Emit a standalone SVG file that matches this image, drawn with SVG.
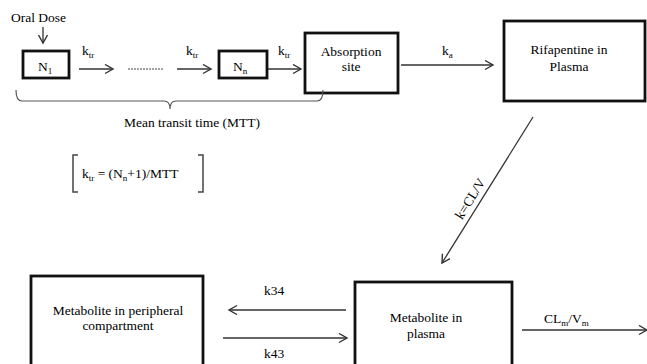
<svg xmlns="http://www.w3.org/2000/svg" width="647" height="364" viewBox="0 0 647 364">
<style>
text{font-family:"Liberation Serif","Times New Roman",serif;font-size:13.5px;fill:#000}
.box{fill:#fff;stroke:#111;stroke-width:2.8}
.ln{fill:none;stroke:#333;stroke-width:1.3}
.sub{font-size:9px}
.m{text-anchor:middle}
</style>
<defs>
<marker id="ah" markerUnits="userSpaceOnUse" markerWidth="12" markerHeight="12" refX="9" refY="5" orient="auto">
<path d="M1,0.5 L9,5 L1,9.5" fill="none" stroke="#333" stroke-width="1.4"/>
</marker>
</defs>
<rect width="647" height="364" fill="#fff"/>

<g id="connectors">
<path class="ln" d="M43,27 V43" marker-end="url(#ah)"/>
<path class="ln" d="M79,69 H113" marker-end="url(#ah)"/>
<path d="M128,69 H163" fill="none" stroke="#444" stroke-width="1" stroke-dasharray="2,1"/>
<path class="ln" d="M177,69 H211" marker-end="url(#ah)"/>
<path class="ln" d="M267,69 H301" marker-end="url(#ah)"/>
<path class="ln" d="M401,65 H493" marker-end="url(#ah)"/>
<path class="ln" d="M533,117 L442,263" marker-end="url(#ah)"/>
<path class="ln" d="M346,310 H229" marker-end="url(#ah)"/>
<path class="ln" d="M223,338 H347" marker-end="url(#ah)"/>
<path class="ln" d="M522,330 H647" marker-end="url(#ah)"/>
<text x="82" y="55">k<tspan class="sub" dy="3">tr</tspan></text>
<text x="186" y="55">k<tspan class="sub" dy="3">tr</tspan></text>
<text x="278" y="55">k<tspan class="sub" dy="3">tr</tspan></text>
<text x="442" y="55">k<tspan class="sub" dy="3">a</tspan></text>
<text class="m" transform="translate(474,201) rotate(-58)">k=CL/V</text>
<text class="m" x="274" y="295">k34</text>
<text class="m" x="274" y="358">k43</text>
<text x="544" y="323">CL<tspan class="sub" dy="3">m</tspan><tspan dy="-3">/V</tspan><tspan class="sub" dy="3">m</tspan></text>
</g>

<g id="oral-dose">
<text x="11" y="22">Oral Dose</text>
</g>

<g id="N1">
<rect class="box" x="23" y="51" width="46" height="27"/>
<text x="38" y="71">N<tspan class="sub" dy="3">1</tspan></text>
</g>

<g id="Nn">
<rect class="box" x="219" y="51" width="48" height="27"/>
<text x="233" y="71">N<tspan class="sub" dy="3">n</tspan></text>
</g>

<g id="absorption">
<rect class="box" x="305" y="33" width="93" height="60"/>
<text class="m" x="351" y="56">Absorption</text>
<text class="m" x="351" y="71">site</text>
</g>

<g id="rifapentine">
<rect class="box" x="504" y="21" width="141" height="80"/>
<text class="m" x="569" y="54">Rifapentine in</text>
<text class="m" x="569" y="71">Plasma</text>
</g>

<g id="mtt">
<path d="M16,90 Q16,101 22,101 L164,101 Q170,101 170,109 Q170,101 176,101 L317,101 Q323,101 323,90" fill="none" stroke="#555" stroke-width="1.2"/>
<text class="m" x="192" y="127">Mean transit time (MTT)</text>
</g>

<g id="formula">
<path d="M78,155 H73 V192 H78 M198,155 H203 V192 H198" fill="none" stroke="#444" stroke-width="1.5"/>
<text x="82" y="178">k<tspan class="sub" dy="3">tr</tspan><tspan dy="-3"> = (N</tspan><tspan class="sub" dy="3">n</tspan><tspan dy="-3">+1)/MTT</tspan></text>
</g>

<g id="metabolite-peripheral">
<rect class="box" x="31" y="276" width="172" height="100"/>
<text class="m" x="118" y="315">Metabolite in peripheral</text>
<text class="m" x="118" y="330">compartment</text>
</g>

<g id="metabolite-plasma">
<rect class="box" x="355" y="282" width="157" height="100"/>
<text class="m" x="426" y="322">Metabolite in</text>
<text class="m" x="426" y="338">plasma</text>
</g>
</svg>
